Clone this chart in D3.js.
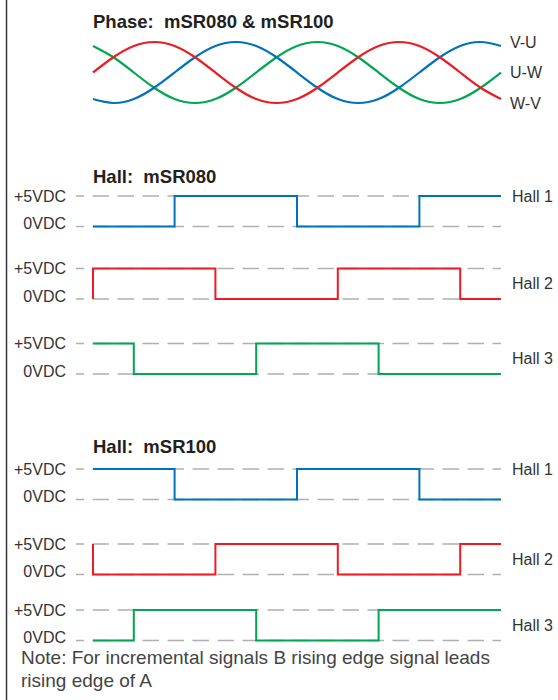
<!DOCTYPE html>
<html>
<head>
<meta charset="utf-8">
<script src="https://cdn.jsdelivr.net/npm/d3@7"></script>
<style>
  html, body { margin: 0; padding: 0; background: #fff; }
  svg text { font-family: "Liberation Sans", Arial, Helvetica, sans-serif; white-space: pre; }
</style>
</head>
<body>
<svg id="chart" width="558" height="700"></svg>
<script>
// electrical angle (degrees) shared by every trace
const angles = [0, 30, 60, 90, 120, 150, 180, 210, 240, 270, 300, 330, 360,
                390, 420, 450, 480, 510, 540, 570, 600];

// phase voltages, normalised amplitude read at each angle
const phaseVU = [-0.87, -1, -0.87, -0.5, 0, 0.5, 0.87, 1, 0.87, 0.5, 0, -0.5, -0.87,
                 -1, -0.87, -0.5, 0, 0.5, 0.87, 1, 0.87];
const phaseUW = [0.87, 0.5, 0, -0.5, -0.87, -1, -0.87, -0.5, 0, 0.5, 0.87, 1, 0.87,
                 0.5, 0, -0.5, -0.87, -1, -0.87, -0.5, 0];
const phaseWV = [0, 0.5, 0.87, 1, 0.87, 0.5, 0, -0.5, -0.87, -1, -0.87, -0.5, 0,
                 0.5, 0.87, 1, 0.87, 0.5, 0, -0.5, -0.87];
const phaseNames = ["V-U", "U-W", "W-V"];
const phaseLabelLevel = [1, 0, -1];

// hall states: [angle, level] pairs, drawn as step-after
const hallNames = ["Hall 1", "Hall 2", "Hall 3"];
const levelLabels = ["+5VDC", "0VDC"];
const mSR080Hall1 = [[0, 0], [120, 1], [300, 0], [480, 1], [600, 1]];
const mSR080Hall2 = [[0, 0], [0, 1], [180, 0], [360, 1], [540, 0], [600, 0]];
const mSR080Hall3 = [[0, 1], [60, 0], [240, 1], [420, 0], [600, 0]];
const mSR100Hall1 = [[0, 1], [120, 0], [300, 1], [480, 0], [600, 0]];
const mSR100Hall2 = [[0, 1], [0, 0], [180, 1], [360, 0], [540, 1], [600, 1]];
const mSR100Hall3 = [[0, 0], [60, 1], [240, 0], [420, 1], [600, 1]];

const colors = { blue: "#0072bc", red: "#ed1c24", green: "#00a651" };
const traceColors = [colors.blue, colors.red, colors.green];

const svg = d3.select("#chart");

// frame on the left edge
svg.append("line")
  .attr("x1", 6.5).attr("x2", 6.5).attr("y1", 0).attr("y2", 700)
  .attr("stroke", "#333").attr("stroke-width", 1.5);

const x = d3.scaleLinear().domain([0, 600]).range([93, 501]);

// ---- Phase section ----
svg.append("text")
  .attr("x", 93).attr("y", 28)
  .attr("font-size", "18.5px").attr("font-weight", "bold").attr("fill", "#231f20")
  .text("Phase:  mSR080 & mSR100");

const yPhase = d3.scaleLinear().domain([-1, 1]).range([103, 42]);
const sine = d3.line()
  .x(d => x(d[0]))
  .y(d => yPhase(d[1]))
  .curve(d3.curveNatural);

const phases = [
  { name: phaseNames[0], values: phaseVU, color: colors.blue, level: phaseLabelLevel[0] },
  { name: phaseNames[1], values: phaseUW, color: colors.green, level: phaseLabelLevel[1] },
  { name: phaseNames[2], values: phaseWV, color: colors.red, level: phaseLabelLevel[2] }
];

// draw order: green under blue under red like the print
[phases[1], phases[0], phases[2]].forEach(p => {
  svg.append("path")
    .datum(angles.map((a, i) => [a, p.values[i]]))
    .attr("fill", "none")
    .attr("stroke", p.color)
    .attr("stroke-width", 2.2)
    .attr("d", sine);
});

svg.selectAll(".phase-label")
  .data(phases)
  .enter().append("text")
  .attr("class", "phase-label")
  .attr("x", 510)
  .attr("y", d => yPhase(d.level))
  .attr("dy", "0.35em")
  .attr("font-size", "16px")
  .attr("fill", "#333")
  .text(d => d.name);

// ---- Hall sections ----
function hallSection(title, titleY, highYs, traces) {
  svg.append("text")
    .attr("x", 93).attr("y", titleY)
    .attr("font-size", "18.5px").attr("font-weight", "bold").attr("fill", "#231f20")
    .text(title);

  traces.forEach((trace, i) => {
    const y = d3.scaleLinear().domain([0, 1]).range([highYs[i] + 30.5, highYs[i]]);

    // dashed reference lines for both levels
    [1, 0].forEach(lv => {
      svg.append("line")
        .attr("x1", 76).attr("x2", x(600))
        .attr("y1", y(lv)).attr("y2", y(lv))
        .attr("stroke", "#b0b0b0")
        .attr("stroke-width", 1.4)
        .attr("stroke-dasharray", "16.5 8.5")
        .attr("stroke-dashoffset", 8.5);
    });

    svg.append("path")
      .datum(trace)
      .attr("fill", "none")
      .attr("stroke", traceColors[i])
      .attr("stroke-width", 2)
      .attr("d", d3.line().x(d => x(d[0])).y(d => y(d[1])).curve(d3.curveStepAfter));

    svg.append("text")
      .attr("x", 66).attr("y", y(1)).attr("dy", "0.35em")
      .attr("text-anchor", "end").attr("font-size", "16px").attr("fill", "#333")
      .text(levelLabels[0]);
    svg.append("text")
      .attr("x", 66).attr("y", y(0) - 3).attr("dy", "0.35em")
      .attr("text-anchor", "end").attr("font-size", "16px").attr("fill", "#333")
      .text(levelLabels[1]);

    svg.append("text")
      .attr("x", 512)
      .attr("y", i === 0 ? y(1) : y(0.5))
      .attr("dy", "0.35em")
      .attr("font-size", "16px").attr("fill", "#333")
      .text(hallNames[i]);
  });
}

hallSection("Hall:  mSR080", 183, [196, 268.5, 343.5],
  [mSR080Hall1, mSR080Hall2, mSR080Hall3]);
hallSection("Hall:  mSR100", 453, [469, 544, 610],
  [mSR100Hall1, mSR100Hall2, mSR100Hall3]);

// ---- footnote ----
const note = svg.append("text")
  .attr("x", 21).attr("y", 664)
  .attr("font-size", "19px").attr("fill", "#444");
note.append("tspan").attr("x", 21).attr("y", 664)
  .text("Note: For incremental signals B rising edge signal leads");
note.append("tspan").attr("x", 21).attr("y", 687)
  .text("rising edge of A");
</script>
</body>
</html>
